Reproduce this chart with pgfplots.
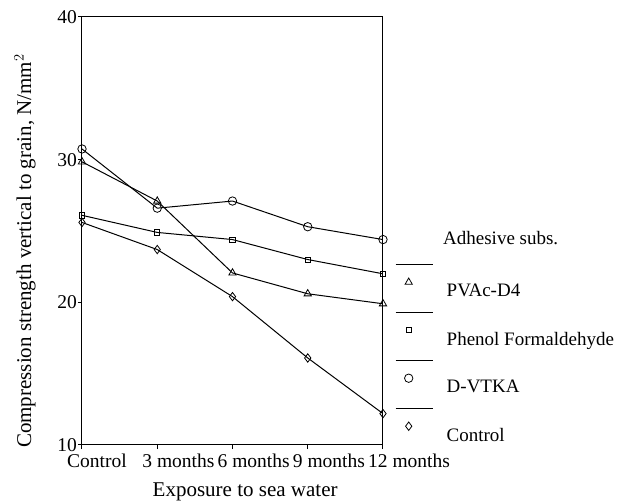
\documentclass[border=0pt]{standalone}
\usepackage{fontspec}
\setmainfont{Liberation Serif}
\usepackage{pgfplots}
\pgfplotsset{compat=1.18}
\begin{document}
\begin{tikzpicture}[x=1pt,y=1pt]
\useasboundingbox (-82,-59) rectangle (543,445);
\begin{axis}[
  at={(0,0)}, anchor=south west,
  width=301pt, height=428pt, scale only axis,
  xmin=0, xmax=4, ymin=10, ymax=40,
  xtick={0,1,2,3,4},
  xticklabels={Control,3 months,6 months,9 months,12 months},
  ytick={10,20,30,40},
  tick align=outside, major tick length=4pt,
  xtick pos=left, ytick pos=left,
  axis line style={black, line width=1pt},
  tick style={black, line width=1pt},
  /pgf/number format/assume math mode=true,
  ticklabel style={font=\fontsize{19.5}{22}\selectfont},
  xticklabel style={anchor=north west, inner sep=0pt, xshift=-15pt, yshift=-5pt},
  yticklabel style={anchor=east, inner sep=0pt, xshift=-1pt},
  xlabel={Exposure to sea water},
  xlabel style={at={(axis description cs:0.542,0)}, anchor=center, yshift=-47pt, font=\fontsize{21}{24}\selectfont},
  ylabel={Compression strength vertical to grain, N/mm$^2$},
  ylabel style={at={(axis description cs:-0.1894,0.453)}, anchor=center, font=\fontsize{21}{24}\selectfont},
  every axis plot/.append style={black, line width=1pt, mark options={solid, line width=0.8pt, fill=white}},
  legend style={at={(axis description cs:1.0399,0.4252)}, anchor=north west, draw=none, fill=none, inner sep=0pt, row sep=0pt,
    font=\fontsize{19}{22}\selectfont},
  legend cell align=left,
  legend image code/.code={
    \draw[black, line width=1pt] (0pt,27pt) -- (37pt,27pt);
    \draw[#1] plot[only marks] coordinates {(13pt,9pt)};
    \path[draw=none, fill=none] (0pt,-20pt) rectangle (49pt,28pt);
  },
]
\addplot[mark=triangle, mark size=4.2pt] coordinates {(0,29.85) (1,27.1) (2,22.06) (3,20.6) (4,19.9)};
\addlegendentry{PVAc-D4}
\addplot[mark=square, mark size=2.6pt] coordinates {(0,26.1) (1,24.9) (2,24.4) (3,23.0) (4,22.0)};
\addlegendentry{Phenol Formaldehyde}
\addplot[mark=o, mark size=4.2pt] coordinates {(0,30.75) (1,26.6) (2,27.1) (3,25.3) (4,24.4)};
\addlegendentry{D-VTKA}
\addplot[mark=diamond, mark size=4.2pt] coordinates {(0,25.6) (1,23.7) (2,20.4) (3,16.1) (4,12.2)};
\addlegendentry{Control}
\end{axis}
\node[anchor=west, inner sep=0pt, font=\fontsize{19}{22}\selectfont] at (361,207) {Adhesive subs.};
\end{tikzpicture}
\end{document}
